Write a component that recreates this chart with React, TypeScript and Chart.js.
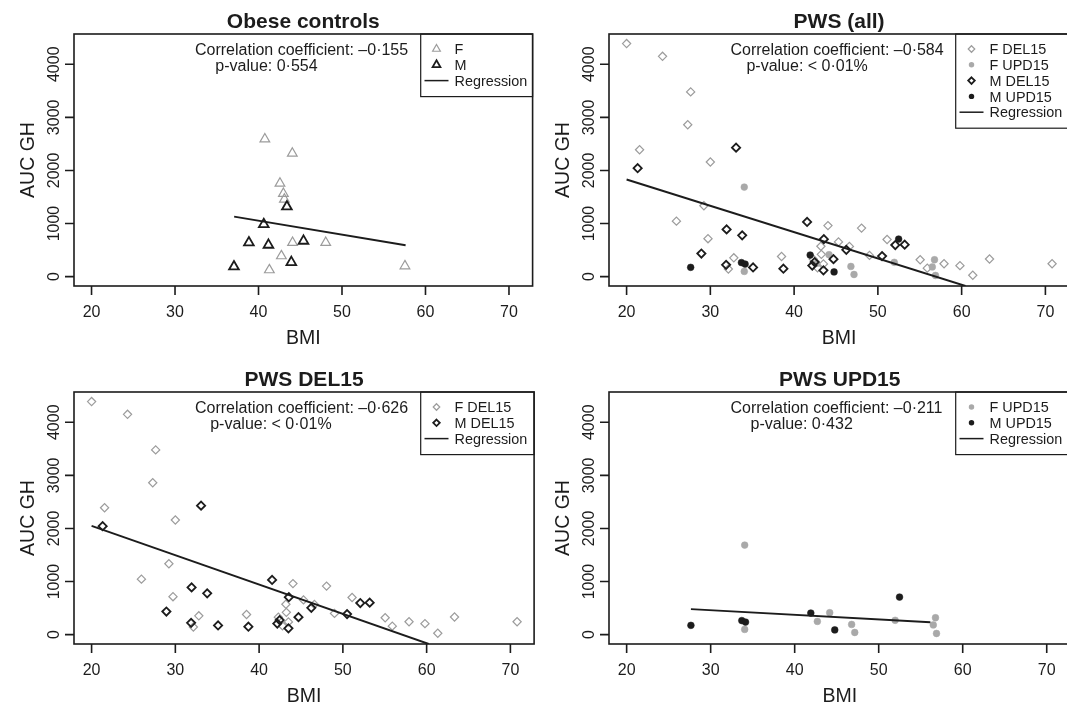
import React, { useEffect, useRef } from 'react';
import { Chart, registerables } from 'chart.js';
Chart.register(...registerables);

// ---------- data ----------
const xTicks = [20, 30, 40, 50, 60, 70];
const yTicks = [0, 1000, 2000, 3000, 4000];

// Obese controls
const obeseF_BMI = [40.76, 44.05, 42.57, 42.98, 43.1, 44.08, 48.05, 42.74, 41.3, 57.54];
const obeseF_AUC = [2591, 2322, 1757, 1563, 1457, 641, 641, 390, 126, 201];
const obeseM_BMI = [43.4, 40.63, 38.85, 41.19, 45.39, 43.93, 37.06];
const obeseM_AUC = [1318, 986, 641, 597, 672, 271, 188];

// PWS
const fDel_BMI = [20.0, 24.29, 27.65, 27.3, 21.55, 30.0, 29.23, 25.95, 29.72, 32.8, 32.15, 38.5, 44.04, 43.2, 43.25, 42.3, 43.5, 42.8, 45.3, 46.6, 48.05, 49.0, 51.1, 55.05, 55.9, 57.9, 59.8, 61.33, 63.33, 70.8];
const fDel_AUC = [4390, 4150, 3480, 2860, 2390, 2160, 1335, 1045, 715, 355, 145, 380, 962, 572, 420, 330, 240, 165, 655, 570, 914, 400, 700, 318, 160, 243, 207, 26, 333, 243];
const fUpd_BMI = [34.05, 34.05, 42.7, 44.17, 46.78, 47.15, 51.96, 56.76, 56.5, 56.88];
const fUpd_AUC = [1687, 99, 250, 414, 192, 41, 270, 318, 183, 22];
const mDel_BMI = [21.32, 33.07, 31.94, 33.8, 28.93, 31.88, 35.1, 38.72, 41.55, 43.55, 42.45, 42.17, 43.5, 44.7, 46.23, 50.5, 52.08, 53.2];
const mDel_AUC = [2042, 2430, 890, 778, 436, 222, 173, 150, 1030, 705, 274, 208, 120, 330, 505, 387, 596, 603];
const mUpd_BMI = [27.65, 33.71, 34.15, 41.92, 44.77, 52.48];
const mUpd_AUC = [175, 265, 237, 407, 90, 708];

// Regression line end points
const regObese_BMI = [37.08, 57.62];
const regObese_AUC = [1130, 591];
const regAll_BMI = [20.0, 60.46];
const regAll_AUC = [1830, -176];
const regDel_BMI = [20.0, 60.25];
const regDel_AUC = [2047, -176];
const regUpd_BMI = [27.65, 56.15];
const regUpd_AUC = [481, 233];

const titles = ['Obese controls', 'PWS (all)', 'PWS DEL15', 'PWS UPD15'];
const corrTexts = ['Correlation coefficient: \u20130\u00B7155', 'Correlation coefficient: \u20130\u00B7584', 'Correlation coefficient: \u20130\u00B7626', 'Correlation coefficient: \u20130\u00B7211'];
const pTexts = ['p-value: 0\u00B7554', 'p-value: < 0\u00B701%', 'p-value: < 0\u00B701%', 'p-value: 0\u00B7432'];

// ---------- styles / layout ----------
const W = 540;
const H = 358;
const AREA = { left: 74, top: 34, right: 536, bottom: 286 };
const X_MIN = 17.9, X_MAX = 72.83, Y_MIN = -176, Y_MAX = 4570;
const FONT = '"Liberation Sans", Arial, Helvetica, sans-serif';
const INK = '#1c1c1c';
const GRAY = '#9c9c9c';
const GRAY_FILL = '#a9a9a9';

type Sym = 'triangle' | 'diamond' | 'circle' | 'line';
interface Series { label: string; sym: Sym; color: string; bold: boolean; xs: number[]; ys: number[] }

const zip = (xs: number[], ys: number[]) => xs.map((x, i) => ({ x, y: ys[i] }));

const S = {
  obF: { label: 'F', sym: 'triangle', color: GRAY, bold: false, xs: obeseF_BMI, ys: obeseF_AUC } as Series,
  obM: { label: 'M', sym: 'triangle', color: INK, bold: true, xs: obeseM_BMI, ys: obeseM_AUC } as Series,
  fDel: { label: 'F DEL15', sym: 'diamond', color: GRAY, bold: false, xs: fDel_BMI, ys: fDel_AUC } as Series,
  fUpd: { label: 'F UPD15', sym: 'circle', color: GRAY_FILL, bold: false, xs: fUpd_BMI, ys: fUpd_AUC } as Series,
  mDel: { label: 'M DEL15', sym: 'diamond', color: INK, bold: true, xs: mDel_BMI, ys: mDel_AUC } as Series,
  mUpd: { label: 'M UPD15', sym: 'circle', color: INK, bold: true, xs: mUpd_BMI, ys: mUpd_AUC } as Series,
};

interface PanelCfg { title: string; corr: string; p: string; corrX: number; pX: number; series: Series[]; regX: number[]; regY: number[] }

const panels: PanelCfg[] = [
  { title: titles[0], corr: corrTexts[0], p: pTexts[0], corrX: 195, pX: 215.3, series: [S.obF, S.obM], regX: regObese_BMI, regY: regObese_AUC },
  { title: titles[1], corr: corrTexts[1], p: pTexts[1], corrX: 195.5, pX: 211.4, series: [S.fDel, S.fUpd, S.mDel, S.mUpd], regX: regAll_BMI, regY: regAll_AUC },
  { title: titles[2], corr: corrTexts[2], p: pTexts[2], corrX: 195, pX: 210.2, series: [S.fDel, S.mDel], regX: regDel_BMI, regY: regDel_AUC },
  { title: titles[3], corr: corrTexts[3], p: pTexts[3], corrX: 195.5, pX: 215.5, series: [S.fUpd, S.mUpd], regX: regUpd_BMI, regY: regUpd_AUC },
];

function drawSymbol(ctx: CanvasRenderingContext2D, sym: Sym, x: number, y: number, color: string, bold: boolean, scale: number) {
  ctx.save();
  ctx.strokeStyle = color;
  ctx.fillStyle = color;
  ctx.lineWidth = bold ? 1.8 : 1.2;
  ctx.beginPath();
  if (sym === 'triangle') {
    const r = 5.6 * scale;
    ctx.moveTo(x, y - r);
    ctx.lineTo(x + r * 0.866, y + r / 2);
    ctx.lineTo(x - r * 0.866, y + r / 2);
    ctx.closePath();
    ctx.stroke();
  } else if (sym === 'diamond') {
    const r = 4.1 * scale;
    ctx.moveTo(x, y - r);
    ctx.lineTo(x + r, y);
    ctx.lineTo(x, y + r);
    ctx.lineTo(x - r, y);
    ctx.closePath();
    ctx.stroke();
  } else if (sym === 'circle') {
    ctx.arc(x, y, 3.4 * scale, 0, Math.PI * 2);
    ctx.fill();
  } else {
    ctx.lineWidth = 1.5;
    ctx.moveTo(x - 12, y);
    ctx.lineTo(x + 12, y);
    ctx.stroke();
  }
  ctx.restore();
}

function framePlugin(cfg: PanelCfg) {
  return {
    id: 'rframe',
    afterDraw(chart: any) {
      const ctx: CanvasRenderingContext2D = chart.ctx;
      const xs = chart.scales.x;
      const ys = chart.scales.y;
      const a = chart.chartArea;
      ctx.save();
      ctx.strokeStyle = INK;
      ctx.fillStyle = INK;
      ctx.lineWidth = 1.6;
      // box
      ctx.strokeRect(a.left, a.top, a.right - a.left, a.bottom - a.top);
      // x ticks
      ctx.beginPath();
      xTicks.forEach((t) => {
        const px = xs.getPixelForValue(t);
        ctx.moveTo(px, a.bottom);
        ctx.lineTo(px, a.bottom + 9);
      });
      yTicks.forEach((t) => {
        const py = ys.getPixelForValue(t);
        ctx.moveTo(a.left, py);
        ctx.lineTo(a.left - 9, py);
      });
      ctx.stroke();
      ctx.font = `16px ${FONT}`;
      ctx.textAlign = 'center';
      ctx.textBaseline = 'alphabetic';
      xTicks.forEach((t) => {
        ctx.fillText(String(t), xs.getPixelForValue(t), 316.7);
      });
      yTicks.forEach((t) => {
        ctx.save();
        ctx.translate(58.5, ys.getPixelForValue(t));
        ctx.rotate(-Math.PI / 2);
        ctx.fillText(String(t), 0, 0);
        ctx.restore();
      });
      // axis labels
      ctx.font = `19.5px ${FONT}`;
      const cx = (a.left + a.right) / 2;
      ctx.fillText('BMI', cx, 344);
      ctx.save();
      ctx.translate(34, (a.top + a.bottom) / 2);
      ctx.rotate(-Math.PI / 2);
      ctx.fillText('AUC GH', 0, 0);
      ctx.restore();
      // title
      ctx.font = `bold 21px ${FONT}`;
      ctx.fillText(cfg.title, cx, 27.5);
      // annotation
      ctx.font = `16px ${FONT}`;
      ctx.textAlign = 'left';
      ctx.fillText(cfg.corr, cfg.corrX, 55.2);
      ctx.fillText(cfg.p, cfg.pX, 70.8);
      // legend
      const items = [...cfg.series.map((s) => ({ label: s.label, sym: s.sym, color: s.color, bold: s.bold })), { label: 'Regression', sym: 'line' as Sym, color: INK, bold: false }];
      const rowH = 15.8;
      const firstRow = 49;
      const boxL = 420.7;
      const boxB = firstRow + (items.length - 1) * rowH + 16;
      ctx.lineWidth = 1.2;
      ctx.strokeRect(boxL, a.top, a.right - boxL, boxB - a.top);
      ctx.font = `14.4px ${FONT}`;
      items.forEach((it, i) => {
        const ry = firstRow + i * rowH;
        drawSymbol(ctx, it.sym, 436.5, ry, it.color, it.bold, 0.8);
        ctx.fillStyle = INK;
        ctx.fillText(it.label, 454.5, ry + 5.2);
      });
      ctx.restore();
    },
  };
}

function makeDataset(s: Series) {
  const base: any = {
    type: 'scatter',
    label: s.label,
    data: zip(s.xs, s.ys),
    borderColor: s.color,
    borderWidth: s.bold ? 1.8 : 1.2,
    showLine: false,
  };
  if (s.sym === 'triangle') {
    base.pointStyle = 'triangle';
    base.pointRadius = 5.6;
    base.backgroundColor = 'rgba(0,0,0,0)';
  } else if (s.sym === 'diamond') {
    base.pointStyle = 'rectRot';
    base.pointRadius = 4.1;
    base.backgroundColor = 'rgba(0,0,0,0)';
  } else {
    base.pointStyle = 'circle';
    base.pointRadius = 3.4;
    base.borderWidth = 0.5;
    base.backgroundColor = s.color;
  }
  return base;
}

function Panel({ cfg, left, top }: { cfg: PanelCfg; left: number; top: number }) {
  const ref = useRef<HTMLCanvasElement>(null);
  useEffect(() => {
    if (!ref.current) return;
    const pointSets = cfg.series.map(makeDataset).reverse();
    const reg: any = {
      type: 'line',
      label: 'Regression',
      data: zip(cfg.regX, cfg.regY),
      borderColor: INK,
      borderWidth: 1.9,
      pointRadius: 0,
      showLine: true,
      fill: false,
      tension: 0,
    };
    const chart = new Chart(ref.current, {
      type: 'scatter',
      data: { datasets: [reg, ...pointSets] },
      options: {
        responsive: false,
        maintainAspectRatio: false,
        animation: false,
        events: [],
        layout: { padding: { left: AREA.left, top: AREA.top, right: W - AREA.right, bottom: H - AREA.bottom } },
        scales: {
          x: { type: 'linear', min: X_MIN, max: X_MAX, display: false },
          y: { type: 'linear', min: Y_MIN, max: Y_MAX, display: false },
        },
        plugins: { legend: { display: false }, tooltip: { enabled: false }, title: { display: false } },
      } as any,
      plugins: [framePlugin(cfg)],
    });
    return () => chart.destroy();
  }, [cfg]);
  return <canvas ref={ref} width={W} height={H} style={{ position: 'absolute', left, top, width: W, height: H }} />;
}

export default function App() {
  return (
    <div style={{ position: 'fixed', left: 0, top: 0, width: 1067, height: 704, overflow: 'hidden', background: '#fff' }}>
      <Panel cfg={panels[0]} left={0} top={0} />
      <Panel cfg={panels[1]} left={535} top={0} />
      <Panel cfg={panels[2]} left={0} top={358} />
      <Panel cfg={panels[3]} left={535} top={358} />
    </div>
  );
}
